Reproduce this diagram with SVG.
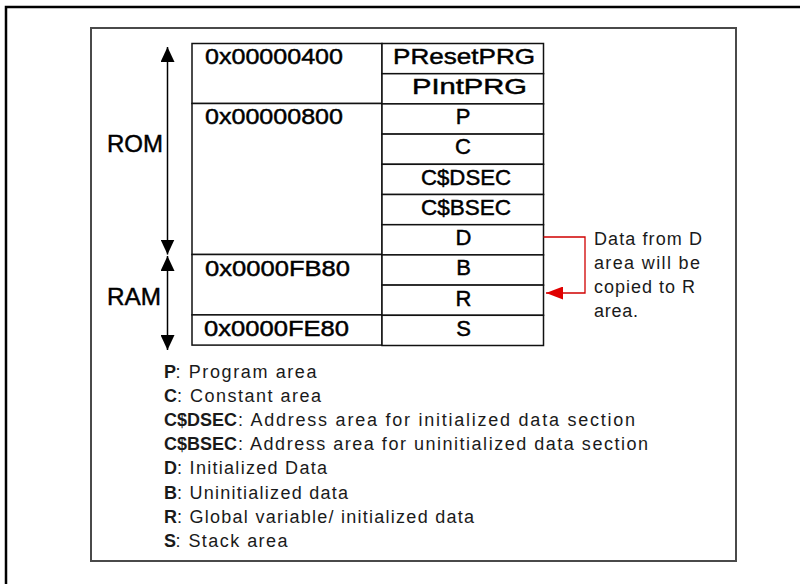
<svg xmlns="http://www.w3.org/2000/svg" width="800" height="584" viewBox="0 0 800 584">
  <style>
    .outer { fill: none; stroke: #000; stroke-width: 2.5; }
    .frame { fill: none; stroke: #4a4a4a; stroke-width: 2; }
    .cell { fill: #fff; stroke: #111; stroke-width: 1.5; }
    .addr, .sec, .span-lbl { font-family: "Liberation Sans", Arial, sans-serif; fill: #000; stroke: #000; stroke-width: 0.45; }
    .addr, .sec { font-size: 22px; }
    .span-lbl { font-size: 24px; }
    .mid { text-anchor: middle; }
    .leg { font-family: "Liberation Sans", Arial, sans-serif; font-size: 18px; fill: #1a1a1a; }
    .leg-b { font-family: "Liberation Sans", Arial, sans-serif; font-size: 18px; font-weight: bold; fill: #1a1a1a; }
    .note { font-family: "Liberation Sans", Arial, sans-serif; font-size: 18px; fill: #1a1a1a; }
    .range { stroke: #000; stroke-width: 1.5; fill: none; marker-start: url(#head); marker-end: url(#head); }
    .copy { stroke: #d00000; stroke-width: 1.3; fill: none; marker-end: url(#redhead); }
  </style>
  <defs>
    <marker id="head" viewBox="0 0 15 14" refX="15" refY="7" markerWidth="15" markerHeight="14" markerUnits="userSpaceOnUse" orient="auto-start-reverse">
      <path d="M0,0 L15,7 L0,14 Z" fill="#000"/>
    </marker>
    <marker id="redhead" viewBox="0 0 17 13" refX="17" refY="6.5" markerWidth="17" markerHeight="13" markerUnits="userSpaceOnUse" orient="auto">
      <path d="M0,0 L17,6.5 L0,13 Z" fill="#e00000"/>
    </marker>
  </defs>

  <rect width="800" height="584" fill="#fff"/>

  <!-- page border and figure frame -->
  <rect class="outer" x="6" y="7" width="820" height="600"/>
  <rect class="frame" x="91" y="28" width="645" height="533"/>

  <!-- address column -->
  <g id="addr-0400">
    <rect class="cell" x="192" y="43.5" width="190" height="60"/>
    <text class="addr" x="205" y="64" textLength="138" lengthAdjust="spacingAndGlyphs">0x00000400</text>
  </g>
  <g id="addr-0800">
    <rect class="cell" x="192" y="103.5" width="190" height="151"/>
    <text class="addr" x="205" y="124" textLength="138" lengthAdjust="spacingAndGlyphs">0x00000800</text>
  </g>
  <g id="addr-FB80">
    <rect class="cell" x="192" y="254.5" width="190" height="60.4"/>
    <text class="addr" x="205" y="275.5" textLength="145" lengthAdjust="spacingAndGlyphs">0x0000FB80</text>
  </g>
  <g id="addr-FE80">
    <rect class="cell" x="192" y="314.9" width="190" height="30.2"/>
    <text class="addr" x="204" y="335.5" textLength="145" lengthAdjust="spacingAndGlyphs">0x0000FE80</text>
  </g>

  <!-- section column -->
  <g id="sec-PResetPRG">
    <rect class="cell" x="382" y="43.5" width="161.5" height="30.2"/>
    <text class="sec" x="393" y="63.5" textLength="142" lengthAdjust="spacingAndGlyphs">PResetPRG</text>
  </g>
  <g id="sec-PIntPRG">
    <rect class="cell" x="382" y="73.7" width="161.5" height="30.2"/>
    <text class="sec" x="412" y="94" textLength="115" lengthAdjust="spacingAndGlyphs">PIntPRG</text>
  </g>
  <g id="sec-P">
    <rect class="cell" x="382" y="103.9" width="161.5" height="30.2"/>
    <text class="sec mid" x="463" y="124">P</text>
  </g>
  <g id="sec-C">
    <rect class="cell" x="382" y="134.1" width="161.5" height="30.2"/>
    <text class="sec mid" x="463" y="154">C</text>
  </g>
  <g id="sec-CDSEC">
    <rect class="cell" x="382" y="164.3" width="161.5" height="30.2"/>
    <text class="sec" x="421" y="184.5" textLength="90" lengthAdjust="spacingAndGlyphs">C$DSEC</text>
  </g>
  <g id="sec-CBSEC">
    <rect class="cell" x="382" y="194.5" width="161.5" height="30.2"/>
    <text class="sec" x="421" y="214.5" textLength="90" lengthAdjust="spacingAndGlyphs">C$BSEC</text>
  </g>
  <g id="sec-D">
    <rect class="cell" x="382" y="224.7" width="161.5" height="30.2"/>
    <text class="sec mid" x="463.5" y="245">D</text>
  </g>
  <g id="sec-B">
    <rect class="cell" x="382" y="254.9" width="161.5" height="30.2"/>
    <text class="sec mid" x="463.5" y="275">B</text>
  </g>
  <g id="sec-R">
    <rect class="cell" x="382" y="285.1" width="161.5" height="30.2"/>
    <text class="sec mid" x="463.5" y="305.5">R</text>
  </g>
  <g id="sec-S">
    <rect class="cell" x="382" y="315.3" width="161.5" height="30.2"/>
    <text class="sec mid" x="463.5" y="335.5">S</text>
  </g>

  <!-- memory range labels -->
  <g id="rom-label">
    <text class="span-lbl" x="107" y="151.5" textLength="56" lengthAdjust="spacingAndGlyphs">ROM</text>
  </g>
  <g id="ram-label">
    <text class="span-lbl" x="107" y="305" textLength="54" lengthAdjust="spacingAndGlyphs">RAM</text>
  </g>

  <!-- connectors -->
  <g id="connectors">
    <line class="range" x1="167.5" y1="47" x2="167.5" y2="254.5"/>
    <line class="range" x1="167.5" y1="256" x2="167.5" y2="350"/>
    <path class="copy" d="M543.5,237 H585 V293 H546"/>
  </g>

  <!-- copy note -->
  <g id="copy-note">
    <text class="note" x="594" y="245" textLength="108" lengthAdjust="spacing">Data from D</text>
    <text class="note" x="594" y="269" textLength="106" lengthAdjust="spacing">area will be</text>
    <text class="note" x="594" y="293" textLength="101" lengthAdjust="spacing">copied to R</text>
    <text class="note" x="594" y="317" textLength="44" lengthAdjust="spacing">area.</text>
  </g>

  <!-- legend -->
  <g id="legend">
    <text class="leg-b" x="164" y="378">P</text>
    <text class="leg" x="175.5" y="378" textLength="141" lengthAdjust="spacing">: Program area</text>
    <text class="leg-b" x="164" y="402">C</text>
    <text class="leg" x="177" y="402" textLength="144" lengthAdjust="spacing">: Constant area</text>
    <text class="leg-b" x="164" y="426.2" textLength="73" lengthAdjust="spacing">C$DSEC</text>
    <text class="leg" x="238" y="426.2" textLength="397" lengthAdjust="spacing">: Address area for initialized data section</text>
    <text class="leg-b" x="164" y="450.3" textLength="73" lengthAdjust="spacing">C$BSEC</text>
    <text class="leg" x="238" y="450.3" textLength="410" lengthAdjust="spacing">: Address area for uninitialized data section</text>
    <text class="leg-b" x="164" y="474.4">D</text>
    <text class="leg" x="177" y="474.4" textLength="150" lengthAdjust="spacing">: Initialized Data</text>
    <text class="leg-b" x="164" y="498.5">B</text>
    <text class="leg" x="177" y="498.5" textLength="171" lengthAdjust="spacing">: Uninitialized data</text>
    <text class="leg-b" x="164" y="522.6">R</text>
    <text class="leg" x="177" y="522.6" textLength="297" lengthAdjust="spacing">: Global variable/ initialized data</text>
    <text class="leg-b" x="164" y="546.7">S</text>
    <text class="leg" x="175.5" y="546.7" textLength="112" lengthAdjust="spacing">: Stack area</text>
  </g>
</svg>
